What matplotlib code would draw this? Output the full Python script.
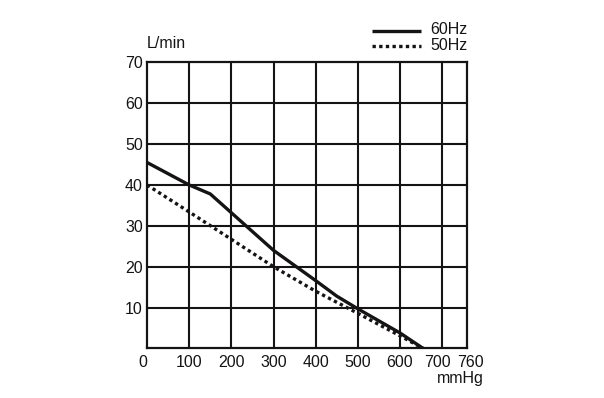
import matplotlib
matplotlib.use("Agg")
import matplotlib.pyplot as plt
from matplotlib.lines import Line2D
import matplotlib.transforms as mtransforms

plt.rcParams['font.family'] = ['Liberation Sans', 'DejaVu Sans']

# Data (pressure mmHg vs flow L/min)
x60 = [0, 100, 150, 200, 300, 400, 450, 500, 600, 655]
y60 = [45.5, 40, 37.8, 33.2, 24, 16.6, 12.8, 9.7, 3.8, 0]
x50 = [0, 100, 200, 300, 400, 500, 600, 655]
y50 = [40, 33.4, 26.7, 20, 14, 8.6, 3.1, 0]
xticks = [0, 100, 200, 300, 400, 500, 600, 700, 760]
xtick_labels = ["0", "100", "200", "300", "400", "500", "600", "700", "760"]
yticks = [10, 20, 30, 40, 50, 60, 70]
ytick_labels = ["10", "20", "30", "40", "50", "60", "70"]
series_labels = ["60Hz", "50Hz"]

ink = "#151313"
fs = 11.5

fig = plt.figure(figsize=(6.04, 3.98), dpi=100)
ax = fig.add_axes([0.2434, 0.1244, 0.5306, 0.7191])
ax.set_xlim(0, 760)
ax.set_ylim(0, 70)

for gx in range(100, 701, 100):
    ax.axvline(gx, color=ink, lw=1.5, zorder=1)
for gy in range(10, 61, 10):
    ax.axhline(gy, color=ink, lw=1.5, zorder=1)

ax.plot(x60, y60, color=ink, lw=2.4, solid_capstyle='butt', zorder=3)
ax.plot(x50, y50, color=ink, lw=2.4, linestyle=(0, (1, 1)), zorder=3)

for s in ax.spines.values():
    s.set_color(ink)
    s.set_linewidth(1.6)

ax.set_xticks(xticks)
ax.set_xticklabels(xtick_labels)
ax.set_yticks(yticks)
ax.set_yticklabels(ytick_labels)
ax.tick_params(length=0, labelsize=fs, colors=ink, pad=3)
ax.tick_params(axis='x', pad=5)

# nudge crowded labels apart like the reference
shifts = {"0": -4, "700": -5, "760": 3}
for lab in ax.get_xticklabels():
    dx = shifts.get(lab.get_text(), 0)
    if dx:
        lab.set_transform(lab.get_transform() +
                          mtransforms.ScaledTranslation(dx / 100, 0, fig.dpi_scale_trans))

fig.text(147 / 604, 1 - 43 / 398, "L/min", fontsize=fs, color=ink,
         ha='left', va='center')
fig.text(484 / 604, 1 - 378 / 398, "mmHg", fontsize=fs, color=ink,
         ha='right', va='center')

# legend drawn manually at top right
fig.add_artist(Line2D([372 / 604, 421 / 604], [1 - 31 / 398] * 2, color=ink,
                      lw=2.4, solid_capstyle='butt'))
fig.add_artist(Line2D([372 / 604, 421 / 604], [1 - 46 / 398] * 2, color=ink,
                      lw=2.4, linestyle=(0, (1, 1))))
fig.text(430 / 604, 1 - 30 / 398, series_labels[0], fontsize=fs, color=ink,
         ha='left', va='center')
fig.text(430 / 604, 1 - 46 / 398, series_labels[1], fontsize=fs, color=ink,
         ha='left', va='center')

fig.savefig("out.png", dpi=100)
